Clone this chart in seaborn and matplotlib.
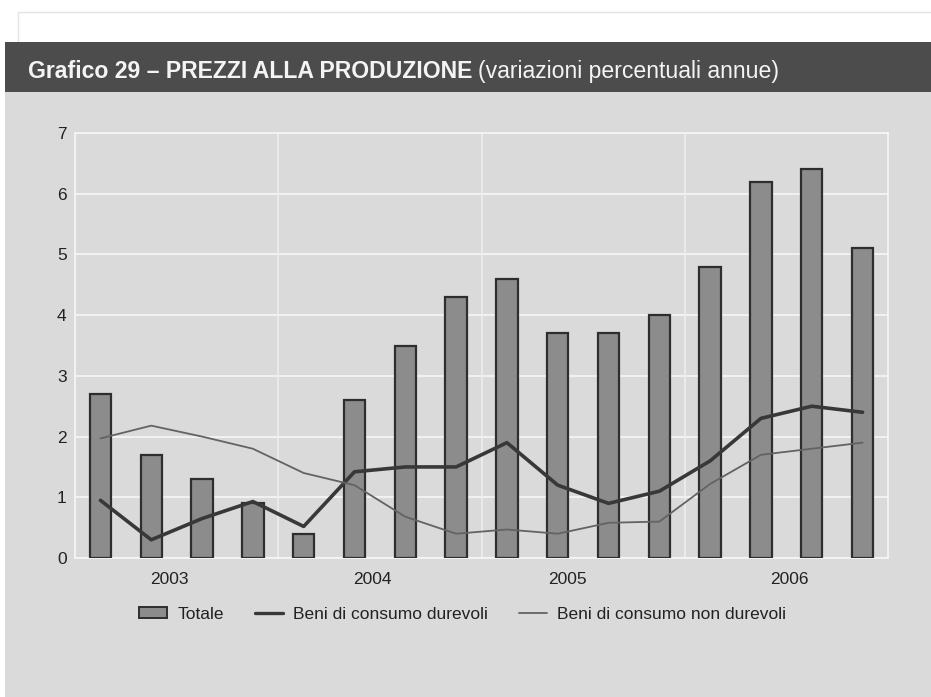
import numpy as np
import pandas as pd
import seaborn as sns
import matplotlib.pyplot as plt
import matplotlib.patches as mpatches
from matplotlib.lines import Line2D

# quarterly data 2003-2006 (annual % change)
quarters = ['2003 T1', '2003 T2', '2003 T3', '2003 T4',
            '2004 T1', '2004 T2', '2004 T3', '2004 T4',
            '2005 T1', '2005 T2', '2005 T3', '2005 T4',
            '2006 T1', '2006 T2', '2006 T3', '2006 T4']
totale = [2.7, 1.7, 1.3, 0.9, 0.4, 2.6, 3.5, 4.3, 4.6, 3.7, 3.7, 4.0, 4.8, 6.2, 6.4, 5.1]
durevoli = [0.95, 0.3, 0.65, 0.93, 0.52, 1.42, 1.5, 1.5, 1.9, 1.2, 0.9, 1.1, 1.6, 2.3, 2.5, 2.4]
non_durevoli = [1.97, 2.18, 2.0, 1.8, 1.4, 1.2, 0.68, 0.4, 0.47, 0.4, 0.58, 0.6, 1.22, 1.7, 1.8, 1.9]
years = ['2003', '2004', '2005', '2006']

df = pd.DataFrame({'trimestre': quarters, 'Totale': totale,
                   'durevoli': durevoli, 'non_durevoli': non_durevoli})

sns.set_theme(style='white')
plt.rcParams['font.family'] = ['Liberation Sans', 'DejaVu Sans']

panel = '#dadada'
fig = plt.figure(figsize=(9.31, 6.97), dpi=100, facecolor='white')

# faint page frame at the top, grey panel and dark title band (behind the axes)
fig.add_artist(Line2D([0.019, 1.0], [0.983, 0.983], transform=fig.transFigure,
                      color='#e4e4e4', linewidth=1, zorder=-10))
fig.add_artist(Line2D([0.019, 0.019], [0.94, 0.983], transform=fig.transFigure,
                      color='#e4e4e4', linewidth=1, zorder=-10))
fig.patches.append(mpatches.Rectangle((0.0054, 0), 0.9946, 0.868, transform=fig.transFigure,
                                      facecolor=panel, edgecolor='none', zorder=-10))
fig.patches.append(mpatches.Rectangle((0.0054, 0.868), 0.9946, 0.072, transform=fig.transFigure,
                                      facecolor='#4c4c4c', edgecolor='none', zorder=-10))
t1 = fig.text(0.03, 0.897, 'Grafico 29 \u2013 PREZZI ALLA PRODUZIONE', color='#f4f4f4',
              fontsize=16.6, fontweight='bold', va='center', ha='left')
fig.canvas.draw()
bb = t1.get_window_extent()
fig.text((bb.x1 + 6) / fig.bbox.width, 0.897, '(variazioni percentuali annue)', color='#f4f4f4',
         fontsize=16.6, va='center', ha='left')

ax = fig.add_axes([0.0806, 0.1994, 0.8732, 0.6098])
ax.set_facecolor(panel)

sns.barplot(data=df, x='trimestre', y='Totale', color='#8c8c8c', width=0.42,
            edgecolor='#2e2e2e', linewidth=1.6, saturation=1, ax=ax, zorder=3)
sns.lineplot(x=df.index, y=df['durevoli'], color='#383838', linewidth=2.6, ax=ax, zorder=4)
sns.lineplot(x=df.index, y=df['non_durevoli'], color='#636363', linewidth=1.3, ax=ax, zorder=4)

ax.set_xlim(-0.5, len(quarters) - 0.5)
ax.set_ylim(0, 7)
ax.set_yticks(range(0, 8))
ax.yaxis.grid(True, color='#f6f6f6', linewidth=1.2, zorder=1)
ax.set_axisbelow(True)
for b in [3.5, 7.5, 11.5]:
    ax.axvline(b, color='#eeeeee', linewidth=1.2, zorder=1)

# year labels sit roughly under the middle of each year's four bars
ax.set_xticks([1.35, 5.35, 9.2, 13.55])
ax.set_xticklabels(years)
ax.tick_params(axis='both', length=0, labelsize=12.5, colors='#222222')
ax.tick_params(axis='x', pad=10)
ax.tick_params(axis='y', pad=6)
ax.set_xlabel('')
ax.set_ylabel('')
for s in ax.spines.values():
    s.set_color('#f6f6f6')
    s.set_linewidth(1.2)

handles = [mpatches.Patch(facecolor='#8c8c8c', edgecolor='#2e2e2e', linewidth=1.4),
           Line2D([], [], color='#383838', linewidth=2.4),
           Line2D([], [], color='#636363', linewidth=1.3)]
labels = ['Totale', 'Beni di consumo durevoli', 'Beni di consumo non durevoli']
fig.legend(handles, labels, loc='center', bbox_to_anchor=(0.497, 0.119), ncol=3,
           frameon=False, fontsize=12.5, handlelength=1.6, handleheight=0.6,
           columnspacing=1.8, handletextpad=0.6, labelcolor='#222222')

fig.savefig('out.png', dpi=100, facecolor='white')
